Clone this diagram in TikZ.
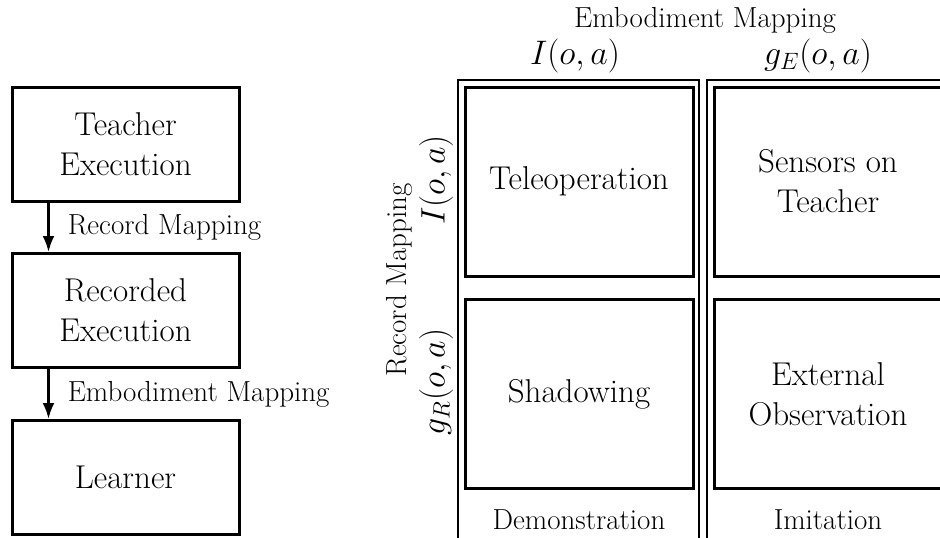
\documentclass[tikz,border=0pt]{standalone}
\usetikzlibrary{arrows.meta}
\begin{document}
\begin{tikzpicture}[x=1pt,y=-1pt,
  bigtxt/.style={font=\fontsize{33}{40}\selectfont},
  mathtxt/.style={font=\huge, scale=1.64},
  smalltxt/.style={font=\fontsize{29}{34}\selectfont},
  flowbox/.style={draw, line width=3pt, minimum width=227pt, minimum height=114pt, align=center, inner sep=0pt, bigtxt},
  cellbox/.style={draw, line width=3pt, minimum width=228pt, minimum height=189pt, align=center, inner sep=0pt, bigtxt},
  colframe/.style={draw, line width=1.3pt},
  arr/.style={line width=2.5pt, -{Latex[length=16pt,width=12pt]}},
  maplabel/.style={anchor=west, inner sep=0pt, xshift=18pt, smalltxt}]
\useasboundingbox (0,0) rectangle (940,538);
\clip (0,0) rectangle (940,538);
% left flow
\node[flowbox] (teacher) at (125.5,144) {Teacher\\Execution};
\node[flowbox] (rec) at (125.5,310.5) {Recorded\\Execution};
\node[flowbox] (learner) at (125.5,477.5) {Learner};
\draw[arr] ([xshift=38pt]teacher.south west) -- node[maplabel] (rml) {Record Mapping} ([xshift=38pt]rec.north west);
\draw[arr] ([xshift=38pt]rec.south west) -- node[maplabel] (eml) {Embodiment Mapping} ([xshift=38pt]learner.north west);
% right grid columns
\draw[colframe] (458,560) -- (458,80) -- (699,80) -- (699,560);
\draw[colframe] (707,560) -- (707,80) -- (948,80) -- (948,560);
\node[cellbox] (tele) at (579,181.5) {Teleoperation};
\node[cellbox] (sens) at (828,181.5) {Sensors on\\Teacher};
\node[cellbox] (shad) at (579,394) {Shadowing};
\node[cellbox] (ext) at (828,394) {External\\Observation};
% headings
\node[smalltxt] (embhead) at (705,20) {Embodiment Mapping};
\node[mathtxt] (ihead) at (575,56) {$I(o,a)$};
\node[mathtxt] (ghead) at (818,56) {$g_E(o,a)$};
\node[smalltxt, rotate=90] (rechead) at (399,280) {Record Mapping};
\node[mathtxt, rotate=90] (irow) at (436,180) {$I(o,a)$};
\node[mathtxt, rotate=90] (grow) at (436,382) {$g_R(o,a)$};
\node[smalltxt] (demo) at (579,520) {Demonstration};
\node[smalltxt] (imit) at (828,520) {Imitation};
\end{tikzpicture}
\end{document}
